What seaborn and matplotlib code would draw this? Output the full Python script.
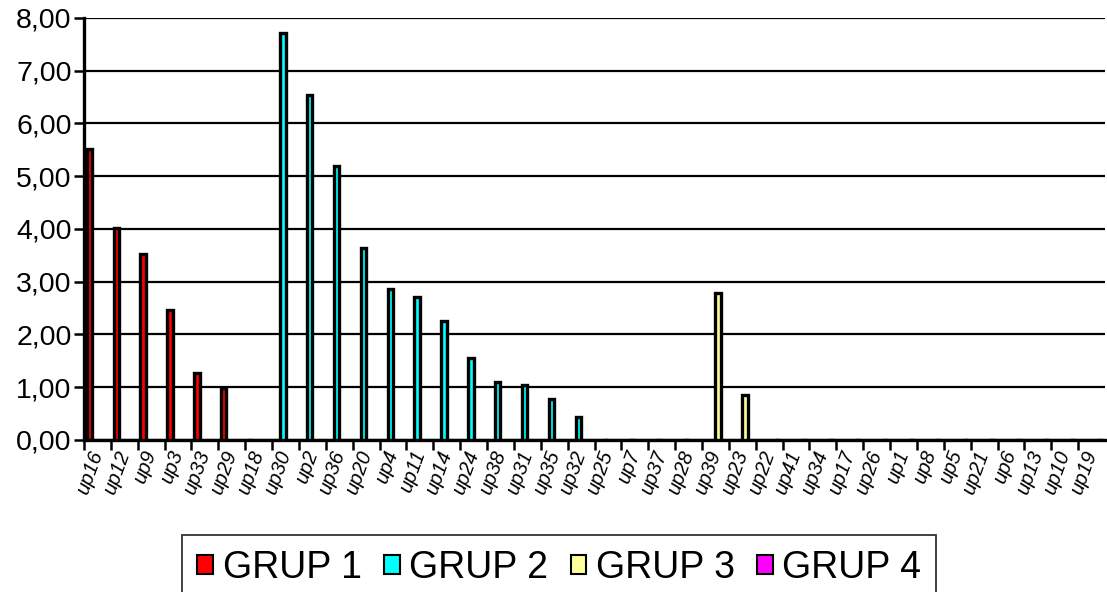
import matplotlib
matplotlib.use("Agg")
import matplotlib.pyplot as plt
from matplotlib.patches import Patch
from matplotlib.ticker import FuncFormatter, FixedLocator, NullFormatter
import seaborn as sns
import pandas as pd
import numpy as np

# Category order along the x axis
categories = ["up16", "up12", "up9", "up3", "up33", "up29", "up18", "up30", "up2",
              "up36", "up20", "up4", "up11", "up14", "up24", "up38", "up31", "up35",
              "up32", "up25", "up7", "up37", "up28", "up39", "up23", "up22", "up41",
              "up34", "up17", "up26", "up1", "up8", "up5", "up21", "up6", "up13",
              "up10", "up19"]

groups = ["GRUP 1", "GRUP 2", "GRUP 3", "GRUP 4"]
group_colors = ["#ff0000", "#00ffff", "#ffff99", "#ff00ff"]

# Members and values of each group
grup1_cats = ["up16", "up12", "up9", "up3", "up33", "up29", "up18"]
grup1_vals = [5.52, 4.01, 3.52, 2.46, 1.26, 0.99, 0.0]

grup2_cats = ["up30", "up2", "up36", "up20", "up4", "up11", "up14", "up24", "up38",
              "up31", "up35", "up32", "up25", "up7", "up37", "up28"]
grup2_vals = [7.71, 6.54, 5.20, 3.63, 2.86, 2.71, 2.26, 1.55, 1.09,
              1.04, 0.78, 0.44, 0.0, 0.0, 0.0, 0.0]

grup3_cats = ["up39", "up23"]
grup3_vals = [2.79, 0.86]

grup4_cats = ["up22", "up41", "up34", "up17", "up26", "up1", "up8", "up5", "up21",
              "up6", "up13", "up10", "up19"]
grup4_vals = [0.0] * 13

y_ticks = [0, 1, 2, 3, 4, 5, 6, 7, 8]

frames = []
for g, cats, vals in zip(groups,
                         [grup1_cats, grup2_cats, grup3_cats, grup4_cats],
                         [grup1_vals, grup2_vals, grup3_vals, grup4_vals]):
    frames.append(pd.DataFrame({"cat": cats, "val": vals, "grp": g}))
df = pd.concat(frames, ignore_index=True)

sns.set_style("white")
plt.rcParams["font.family"] = ["Liberation Sans", "DejaVu Sans"]
plt.rcParams["text.color"] = "black"
plt.rcParams["xtick.color"] = "black"
plt.rcParams["ytick.color"] = "black"

fig = plt.figure(figsize=(11.07, 5.92), dpi=100)
ax = fig.add_axes([0.0759, 0.257, 0.9223, 0.7126])

sns.barplot(data=df, x="cat", y="val", hue="grp", order=categories,
            hue_order=groups, palette=group_colors, width=0.8, dodge=True,
            edgecolor="black", linewidth=2.4, errorbar=None, legend=False,
            saturation=1, ax=ax, zorder=3)

ax.set_xlim(-0.5, len(categories) - 0.5)
ax.set_ylim(0, 8)
ax.set_yticks(y_ticks)
ax.yaxis.set_major_formatter(FuncFormatter(lambda v, p: f"{v:.2f}".replace(".", ",")))
ax.yaxis.grid(True, color="black", linewidth=1.6)
ax.set_axisbelow(True)

# Tick marks between categories, labels at category centres
centers = np.arange(len(categories))
ax.xaxis.set_major_locator(FixedLocator(centers - 0.5))
ax.xaxis.set_major_formatter(NullFormatter())
ax.xaxis.set_minor_locator(FixedLocator(centers))
ax.set_xticklabels(categories, minor=True)
ax.tick_params(axis="x", which="major", direction="out", length=7, width=1.8,
               color="black", bottom=True)
ax.tick_params(axis="x", which="minor", length=0, pad=8, labelsize=14.5,
               labelcolor="black")
for lbl in ax.get_xticklabels(minor=True):
    lbl.set_rotation(70)
    lbl.set_style("italic")
    lbl.set_ha("right")
    lbl.set_va("center")
    lbl.set_rotation_mode("anchor")
ax.tick_params(axis="y", direction="out", length=7, width=1.8, color="black",
               left=True, labelsize=20.5, pad=2, labelcolor="black")

ax.set_xlabel("")
ax.set_ylabel("")
for side in ["top", "right"]:
    ax.spines[side].set_visible(False)
for side in ["left", "bottom"]:
    ax.spines[side].set_color("black")
    ax.spines[side].set_linewidth(2.4)

handles = [Patch(facecolor=c, edgecolor="black", linewidth=1.5) for c in group_colors]
leg = fig.legend(handles, groups, loc="upper center", bbox_to_anchor=(0.5054, 0.0963),
                 ncol=4, fontsize=27, frameon=True, fancybox=False,
                 handlelength=0.42, handleheight=0.42, handletextpad=0.25,
                 columnspacing=0.6, borderpad=0.4, borderaxespad=0)
leg.get_frame().set_edgecolor("black")
leg.get_frame().set_linewidth(1.3)
for t in leg.get_texts():
    t.set_color("black")

fig.savefig("out.png", dpi=100)
